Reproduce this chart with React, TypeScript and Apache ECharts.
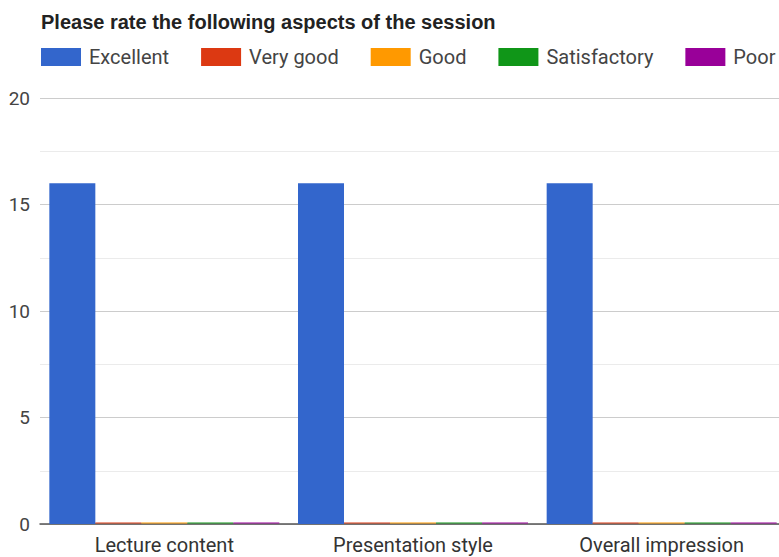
import React, { useEffect, useRef } from "react";
import * as echarts from "echarts";

const categories = ["Lecture content", "Presentation style", "Overall impression"];
const seriesNames = ["Excellent", "Very good", "Good", "Satisfactory", "Poor"];
const seriesColors = ["#3366cc", "#dc3912", "#ff9900", "#109618", "#990099"];
const excellent = [16, 16, 16];
const veryGood = [0, 0, 0];
const good = [0, 0, 0];
const satisfactory = [0, 0, 0];
const poor = [0, 0, 0];
const seriesValues = [excellent, veryGood, good, satisfactory, poor];

const FONT = "Roboto, Arial, sans-serif";

export default function App() {
  const ref = useRef<HTMLDivElement>(null);
  useEffect(() => {
    if (!ref.current) return;
    const chart = echarts.init(ref.current, undefined, { renderer: "svg" });
    chart.setOption({
      animation: false,
      backgroundColor: "#ffffff",
      title: {
        text: "Please rate the following aspects of the session",
        left: 41,
        top: 12,
        padding: 0,
        textStyle: {
          fontFamily: "'Liberation Sans', Arial, sans-serif",
          fontSize: 20,
          lineHeight: 20,
          fontWeight: "bold",
          color: "#222222",
        },
      },
      legend: {
        left: 41,
        top: 47,
        padding: 0,
        itemWidth: 40,
        itemHeight: 18,
        itemGap: 32,
        icon: "rect",
        data: seriesNames.map((name, i) => ({ name, itemStyle: { color: seriesColors[i], opacity: 1 } })),
        textStyle: { fontFamily: FONT, fontSize: 20, color: "#444444", padding: [0, 0, 0, 3], lineHeight: 18 },
      },
      grid: { left: 40, right: 14, top: 98, bottom: 33, containLabel: false },
      xAxis: {
        type: "category",
        data: categories,
        axisLine: { show: true, lineStyle: { color: "#555555", width: 1.5 } },
        axisTick: { show: false },
        axisLabel: { fontFamily: FONT, fontSize: 20, color: "#333333", margin: 11 },
      },
      yAxis: {
        type: "value",
        min: 0,
        max: 20,
        interval: 5,
        axisLine: { show: false },
        axisTick: { show: false },
        axisLabel: { fontFamily: FONT, fontSize: 19, color: "#444444", margin: 10 },
        splitLine: { lineStyle: { color: "#cccccc", width: 1 } },
        minorTick: { show: false, splitNumber: 2 },
        minorSplitLine: { show: true, lineStyle: { color: "#ebebeb", width: 1 } },
      },
      series: seriesNames.map((name, i) => ({
        name,
        type: "bar",
        data: seriesValues[i],
        barWidth: 46,
        barGap: "0%",
        barMinHeight: 2,
        itemStyle: { color: seriesColors[i], opacity: i === 0 ? 1 : 0.5 },
      })),
    });
    return () => chart.dispose();
  }, []);
  return (
    <div style={{ position: "fixed", left: 0, top: 0, width: 779, height: 557, overflow: "hidden", background: "#fff" }}>
      <div ref={ref} style={{ width: 800, height: 557 }} />
    </div>
  );
}
